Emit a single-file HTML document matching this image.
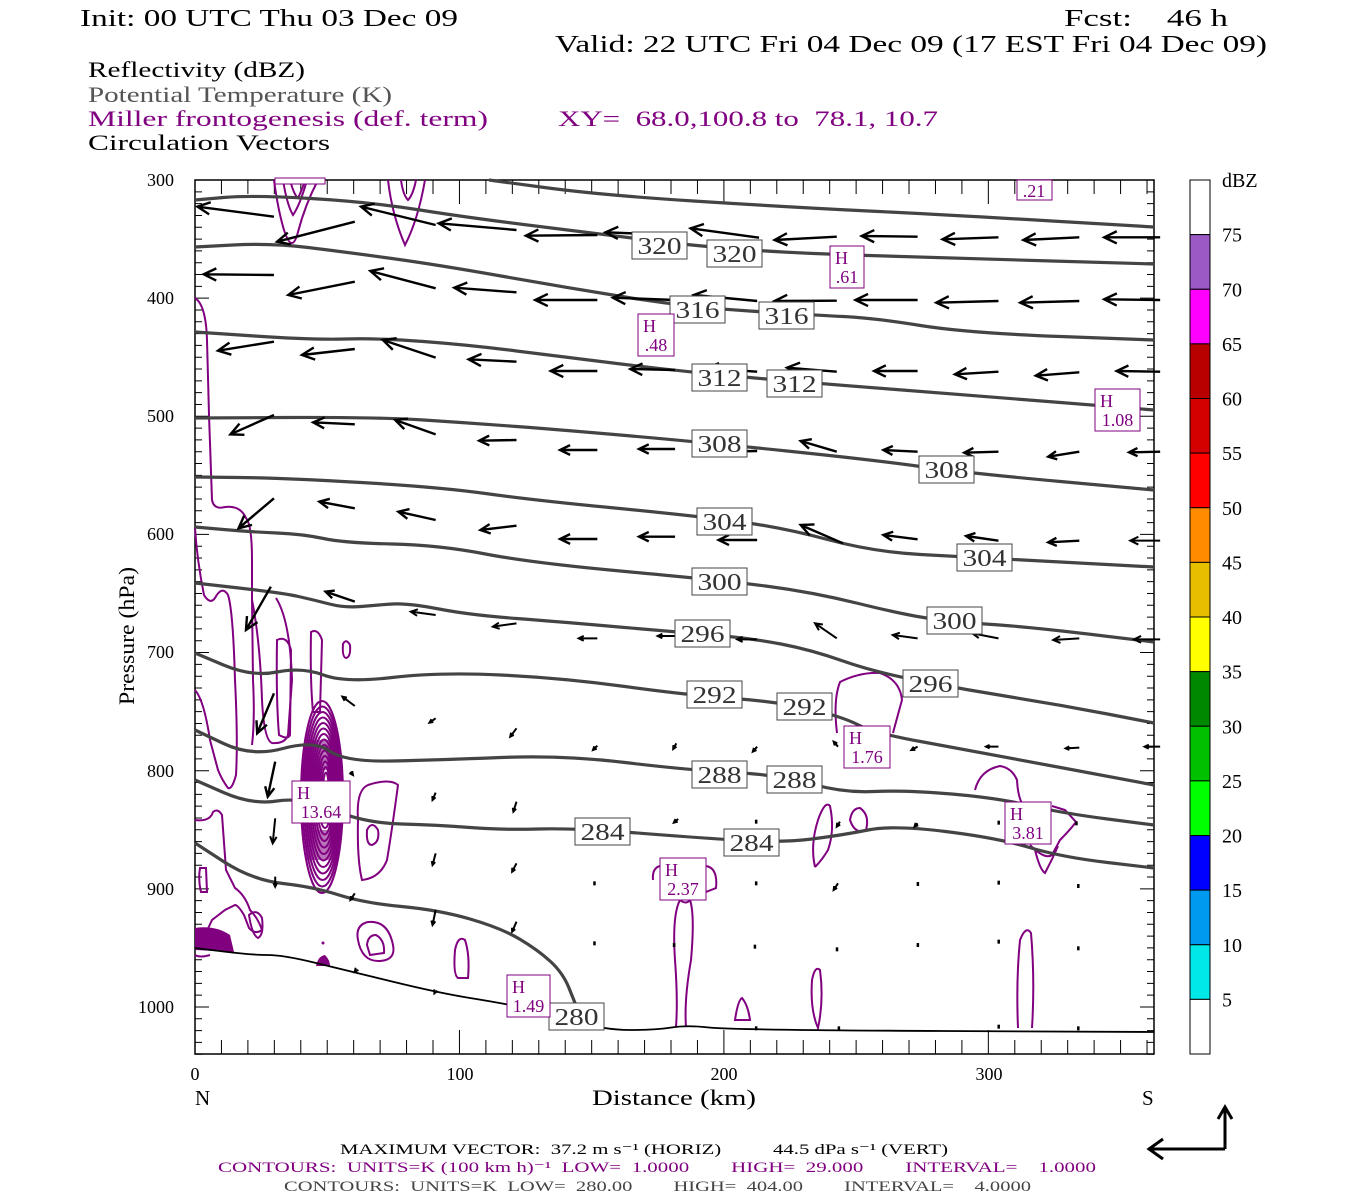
<!DOCTYPE html>
<html><head><meta charset="utf-8"><style>
html,body{margin:0;padding:0;background:#fff}
svg{display:block}
text{white-space:pre}
</style></head><body>
<svg id="s" width="1350" height="1200" viewBox="0 0 1350 1200" xmlns="http://www.w3.org/2000/svg" xml:space="preserve" font-family="'Liberation Serif', serif">
<rect width="1350" height="1200" fill="#fff"/>
<text x="80" y="26" font-size="24" textLength="378" lengthAdjust="spacingAndGlyphs">Init: 00 UTC Thu 03 Dec 09</text>
<text x="1064" y="26" font-size="24" textLength="164" lengthAdjust="spacingAndGlyphs">Fcst:    46 h</text>
<text x="555" y="52" font-size="24" textLength="712" lengthAdjust="spacingAndGlyphs">Valid: 22 UTC Fri 04 Dec 09 (17 EST Fri 04 Dec 09)</text>
<text x="88" y="77" font-size="22" textLength="217" lengthAdjust="spacingAndGlyphs">Reflectivity (dBZ)</text>
<text x="88" y="102" font-size="22" fill="#555" textLength="304" lengthAdjust="spacingAndGlyphs">Potential Temperature (K)</text>
<text x="88" y="126" font-size="22" fill="#800080" textLength="400" lengthAdjust="spacingAndGlyphs">Miller frontogenesis (def. term)</text>
<text x="558" y="126" font-size="22" fill="#800080" textLength="380" lengthAdjust="spacingAndGlyphs">XY=  68.0,100.8 to  78.1, 10.7</text>
<text x="88" y="150" font-size="22" textLength="242" lengthAdjust="spacingAndGlyphs">Circulation Vectors</text>
<g id="plot"></g>
<g font-size="18" text-anchor="end">
<text x="174" y="186">300</text><text x="174" y="304">400</text><text x="174" y="422">500</text><text x="174" y="540">600</text><text x="174" y="658">700</text><text x="174" y="777">800</text><text x="174" y="895">900</text><text x="174" y="1013">1000</text>
</g>
<g font-size="18" text-anchor="middle">
<text x="195" y="1080">0</text><text x="460" y="1080">100</text><text x="724" y="1080">200</text><text x="989" y="1080">300</text>
</g>
<text x="195" y="1105" font-size="21">N</text>
<text x="1142" y="1105" font-size="21">S</text>
<text x="592" y="1105" font-size="22" textLength="164" lengthAdjust="spacingAndGlyphs">Distance (km)</text>
<text transform="translate(134,705) rotate(-90)" font-size="22" textLength="138" lengthAdjust="spacingAndGlyphs">Pressure (hPa)</text>
<text x="340" y="1154" font-size="15" textLength="608" lengthAdjust="spacingAndGlyphs">MAXIMUM VECTOR:  37.2 m s⁻¹ (HORIZ)          44.5 dPa s⁻¹ (VERT)</text>
<text x="218" y="1172" font-size="15" fill="#800080" textLength="878" lengthAdjust="spacingAndGlyphs">CONTOURS:  UNITS=K (100 km h)⁻¹  LOW=  1.0000        HIGH=  29.000        INTERVAL=    1.0000</text>
<text x="284" y="1191" font-size="15" fill="#444" textLength="747" lengthAdjust="spacingAndGlyphs">CONTOURS:  UNITS=K  LOW=  280.00        HIGH=  404.00        INTERVAL=    4.0000</text>
<g stroke="#000" stroke-width="3" fill="none">
<path d="M1225,1149 L1149,1149 M1163,1139 L1149,1149 L1163,1159 M1225,1149 L1225,1107 M1218,1119 L1225,1107 L1232,1119"/>
</g>
<g id="cb"></g>
</svg>
<script>
var NS="http://www.w3.org/2000/svg";
function el(p,t,a,txt){var e=document.createElementNS(NS,t);for(var k in a)e.setAttribute(k,a[k]);if(txt!=null)e.textContent=txt;p.appendChild(e);return e;}
var P=document.getElementById('plot'),CB=document.getElementById('cb');
var cols=["#fff","#9b59c6","#ff00ff","#b80000","#d40000","#ff0000","#ff8c00","#e8be00","#ffff00","#008800","#00c000","#00ff00","#0000ff","#0099f0","#00e8e8","#fff"];
var labs=["75","70","65","60","55","50","45","40","35","30","25","20","15","10","5"];
var h=874/16;
for(var i=0;i<16;i++){el(CB,'rect',{x:1190,y:180+i*h,width:20,height:h,fill:cols[i],stroke:"#000","stroke-width":1});}
el(CB,'text',{x:1222,y:187,"font-size":20},"dBZ");
for(var i=0;i<15;i++){el(CB,'text',{x:1222,y:180+(i+1)*h+7,"font-size":20},labs[i]);}
el(P,'rect',{x:195,y:180,width:959,height:874,fill:"none",stroke:"#000","stroke-width":1.5});
var tk="";
for(var p=300;p<=1040;p+=10){var y=180+(p-300)*1.1814;var L=(p%100==0)?14:7;tk+="M195,"+y+"h"+L+"M1154,"+y+"h-"+L;}
for(var d=0;d<=362;d+=10){var x=195+d*2.6445;var L=(d%100==0)?24:14;tk+="M"+x+",1054v-"+L+"M"+x+",180v"+L;}
el(P,'path',{d:tk,stroke:"#000","stroke-width":1,fill:"none"});
var pur=[
"M195,298 Q206,305 207,340 L209,415 L212,500 Q214,510 225,507 Q240,505 246,518 Q252,525 252,560 L252,600 L253,680 Q255,720 252,745",
"M195,528 Q197,560 204,595 Q210,605 215,598 Q222,585 228,595 Q233,610 235,680 Q238,740 236,775 Q232,790 228,788 Q222,780 218,770 L210,740 Q204,700 195,690",
"M252,600 Q260,640 262,700 Q264,740 272,743 Q285,744 288,735 L292,680 Q290,620 276,598",
"M277,640 Q276,700 279,735 Q288,740 290,735 L291,650 Q287,635 277,640Z",
"M311,632 Q310,680 313,712 L320,712 L322,640 Q318,628 311,632Z",
"M343,644 Q342,657 346,658 Q351,657 350,645 Q346,638 343,644Z",
"M274,180 Q278,210 284,230 Q292,255 298,232 Q305,205 318,180",
"M283,180 Q287,205 293,215 Q300,205 307,180",
"M290,180 Q294,195 298,198 Q302,190 305,180",
"M388,180 Q392,215 405,245 Q418,220 425,180 M401,180 Q403,195 408,200 Q413,195 416,180",
"M358,820 Q356,790 368,785 Q390,778 398,785 Q392,830 387,860 Q380,878 362,880 Q357,860 358,820Z",
"M367,830 Q366,845 372,845 Q380,842 378,830 Q372,820 367,830Z",
"M195,820 Q210,822 213,812 Q218,808 222,815 L226,870 L235,888 Q245,895 250,910 Q258,918 262,930 Q255,935 249,928 L244,915 Q238,905 235,905 L225,910 L212,920 L205,935",
"M249,915 Q252,935 258,938 Q264,935 262,918 Q257,908 249,915Z",
"M200,868 Q198,880 201,892 L207,892 L206,868Z",
"M358,940 Q355,925 368,922 Q388,920 393,945 Q396,960 380,961 Q362,962 358,940Z",
"M367,945 Q368,935 376,935 Q385,940 384,953 L370,955Z",
"M455,950 Q453,975 458,978 L468,978 Q470,955 465,940 Q458,935 455,950Z",
"M653,880 Q652,868 660,866 M706,866 Q718,868 716,888 L706,892 M680,900 Q672,915 675,960 Q678,1000 676,1027 M690,900 Q695,915 691,960 Q684,1000 686,1027 M680,900 Q686,905 690,900",
"M735,1020 Q738,1000 742,998 Q748,1005 750,1020Z",
"M812,980 Q810,1010 818,1028 Q824,1000 820,970 Q815,965 812,980Z",
"M1018,1028 Q1016,980 1020,940 Q1026,925 1031,933 Q1035,980 1032,1028",
"M837,733 Q833,700 840,682 Q860,672 880,673 Q900,680 902,700 Q897,718 893,733",
"M815,867 Q810,845 818,820 Q825,800 830,806 Q835,830 828,850 Q822,860 815,867 M850,820 Q852,808 860,808 Q870,815 866,830 Q855,835 850,820Z",
"M975,790 Q980,770 1000,766 Q1012,768 1017,780 Q1018,800 1025,808 M1030,845 Q1045,860 1052,855 L1060,840 Q1070,830 1076,822 L1065,810 L1052,806 M1035,850 Q1040,870 1045,873 Q1052,860 1058,846",
"M195,955 Q200,958 210,955"
];
pur.forEach(function(d){el(P,'path',{d:d,stroke:"#800080","stroke-width":2,fill:"none"});});
for(var i=0;i<14;i++){var rx=21-i*1.4,ry=96-i*6;el(P,'ellipse',{cx:322+i*0.3,cy:797-i*0.5,rx:rx,ry:ry,stroke:"#800080","stroke-width":2,fill:"none"});}
el(P,'rect',{x:306,y:740,width:30,height:30,fill:"#800080","fill-opacity":0.55});
el(P,'rect',{x:306,y:830,width:32,height:30,fill:"#800080","fill-opacity":0.55});
el(P,'path',{d:"M195,928 Q215,925 230,935 L234,952 L195,950Z",fill:"#800080"});
el(P,'path',{d:"M316,966 Q318,956 325,955 Q330,960 330,966Z",fill:"#800080"});
el(P,'circle',{cx:323,cy:943,r:1.5,fill:"#800080"});
var ISO=[
[[489,180],[600,195],[787,207],[950,215],[1154,227]],
[[195,200],[252,195],[370,202],[470,218],[625,237],[687,245],[787,253],[950,258],[1154,264]],
[[195,247],[271,243],[345,252],[439,265],[563,287],[687,307],[812,315],[874,318],[967,333],[1154,340]],
[[195,332],[314,340],[377,338],[470,345],[563,357],[687,372],[812,383],[967,395],[1154,410]],
[[195,418],[377,417],[470,423],[563,430],[700,442],[874,460],[967,473],[1154,490]],
[[195,477],[283,478],[439,487],[532,500],[687,515],[781,527],[874,552],[967,557],[1154,567]],
[[195,527],[252,532],[302,534],[345,543],[439,545],[532,563],[719,580],[812,592],[905,615],[955,622],[1030,627],[1154,642]],
[[195,583],[283,593],[314,600],[345,608],[377,605],[408,603],[470,615],[563,622],[675,632],[750,638],[812,650],[874,672],[967,690],[1061,705],[1154,723]],
[[195,653],[252,677],[302,667],[345,683],[439,672],[563,678],[687,695],[781,702],[843,717],[874,733],[967,750],[1154,785]],
[[195,730],[252,757],[314,740],[345,762],[439,760],[563,755],[687,770],[781,775],[843,793],[905,790],[998,798],[1061,813],[1154,825]],
[[195,780],[252,805],[302,797],[364,823],[439,825],[501,830],[575,828],[687,837],[781,843],[843,835],[893,825],[998,838],[1061,857],[1154,868]],
[[195,843],[252,880],[314,887],[364,903],[439,910],[501,928],[538,950],[563,973],[575,1003]]
];
function smooth(pts){var d="M"+pts[0][0]+","+pts[0][1];for(var i=1;i<pts.length;i++){var p0=pts[i-1],p1=pts[i];var mx=(p0[0]+p1[0])/2,my=(p0[1]+p1[1])/2;d+=" Q"+p0[0]+","+p0[1]+" "+mx+","+my;}d+=" L"+pts[pts.length-1][0]+","+pts[pts.length-1][1];return d;}
ISO.forEach(function(p){el(P,'path',{d:smooth(p),stroke:"#444","stroke-width":3.2,fill:"none","stroke-linejoin":"round"});});
el(P,'path',{d:smooth([[195,948],[252,955],[283,955],[345,970],[439,993],[501,1003],[551,1013],[604,1030],[656,1030],[687,1025],[731,1030],[1154,1032]]),stroke:"#000","stroke-width":1.8,fill:"none"});
var A4=[[12,95,135,125],[275,95,395,150],[140,200,265,140],[400,145,525,165],[540,182,655,180],[668,172,780,180],[805,160,915,188],[940,195,1040,185],[1080,183,1170,185],[1210,193,1300,187],[1340,195,1430,187],[1470,187,1560,187],
[22,298,135,300],[158,360,265,320],[290,288,395,340],[425,338,525,352],[555,375,655,375],[680,368,780,375],[810,360,912,378],[940,378,1040,377],[1070,375,1170,375],[1200,383,1300,378],[1335,383,1430,378],[1470,373,1560,375],
[45,527,135,500],[180,540,265,522],[310,495,395,548],[448,553,525,560],[580,588,655,588],[708,582,780,585],[830,580,912,590],[960,578,1040,590],[1100,588,1170,588],[1230,598,1300,590],[1360,602,1430,592],[1490,588,1560,590],
[65,778,135,720],[198,742,265,748],[330,735,395,778],[465,797,525,795],[595,825,655,825],[722,822,780,822],[850,830,912,828],[982,798,1040,830],[1115,825,1170,830],[1245,833,1300,830],[1380,845,1430,830],[1510,832,1560,830],
[78,1060,135,970],[208,980,265,1000],[335,1010,395,1035],[467,1065,525,1052],[595,1092,655,1092],[722,1085,780,1085],[850,1095,912,1095],[982,1050,1050,1105],[1115,1080,1170,1093],[1248,1083,1300,1097],[1380,1102,1430,1097],[1512,1097,1560,1097],
[218,1250,265,1280]];
var A5=[[90,90,130,-40],[355,35,395,45],[487,80,525,70],[625,115,655,115],[752,108,780,108],[880,118,912,118],[1005,70,1040,115],[1130,105,1170,115],[1258,100,1300,115],[1388,120,1430,115],[1518,118,1560,118],
[108,400,135,280],[245,290,265,318],[385,368,395,355],[515,410,525,385],[648,450,655,437],[777,447,782,430],[905,455,912,440],[1035,425,1042,440],[1160,450,1170,440],[1280,440,1300,440],[1408,445,1430,443],[1535,440,1560,440],
[125,590,137,485],[262,525,258,515],[390,600,395,578],[520,635,525,605],[650,667,655,660],[778,668,785,657],[1040,680,1045,665],[1165,680,1170,670],
[133,730,137,655],[390,795,395,760],[518,815,525,790],
[137,860,137,830],[258,900,265,880],[390,975,395,930],[518,995,525,965],[1035,870,1042,850],[775,855,780,845],
[265,1115,268,1108],[393,1180,395,1172]];
function arrow(hx,hy,tx,ty){var dx=hx-tx,dy=hy-ty,L=Math.sqrt(dx*dx+dy*dy);
 var hs=Math.min(14,Math.max(4,L*0.3));var ux=dx/L,uy=dy/L;var a=0.45;
 var c=Math.cos(a),s=Math.sin(a);
 var b1x=hx-hs*(ux*c-uy*s),b1y=hy-hs*(uy*c+ux*s),b2x=hx-hs*(ux*c+uy*s),b2y=hy-hs*(uy*c-ux*s);
 el(P,'path',{d:"M"+tx+","+ty+"L"+hx+","+hy+"M"+b1x+","+b1y+"L"+hx+","+hy+"L"+b2x+","+b2y,stroke:"#000","stroke-width":L>30?2.4:2,fill:"none"});}
A4.forEach(function(a){arrow(190+a[0]/1.608,175+a[1]/3,190+a[2]/1.608,175+a[3]/3);});
A5.forEach(function(a){arrow(190+a[0]/1.608,600+a[1]/3,190+a[2]/1.608,600+a[3]/3);});
[[650,850],[910,850],[1170,852],[1300,848],[1428,858],[650,1030],[778,1035],[908,1040],[1040,1048],[1170,1035],[1300,1025],[1428,1045],[910,665],[1300,668],[1425,670],[910,1285],[1043,1285],[1300,1280],[1428,1285]].forEach(function(d){el(P,'rect',{x:190+d[0]/1.608-1,y:600+d[1]/3-2,width:2.5,height:4,fill:"#000"});});
var IL=[[632,232,"320"],[707,240,"320"],[670,296,"316"],[759,302,"316"],[692,364,"312"],[767,370,"312"],[692,430,"308"],[919,456,"308"],[697,508,"304"],[957,544,"304"],[692,568,"300"],[927,607,"300"],[675,620,"296"],[903,670,"296"],[687,681,"292"],[777,693,"292"],[692,761,"288"],[767,766,"288"],[575,818,"284"],[724,829,"284"],[549,1003,"280"]];
IL.forEach(function(l){el(P,'rect',{x:l[0],y:l[1],width:55,height:27,fill:"#fff",stroke:"#444","stroke-width":1});el(P,'text',{x:l[0]+27.5,y:l[1]+22,"font-size":24,"text-anchor":"middle",fill:"#333",textLength:44,lengthAdjust:"spacingAndGlyphs"},l[2]);});
var HL=[[830,246,34,".61"],[638,314,36,".48"],[1095,389,45,"1.08"],[292,781,58,"13.64"],[844,726,46,"1.76"],[1005,802,46,"3.81"],[660,858,46,"2.37"],[507,975,43,"1.49"]];
HL.forEach(function(l){el(P,'rect',{x:l[0],y:l[1],width:l[2],height:42,fill:"#fff",stroke:"#800080","stroke-width":1});
 el(P,'text',{x:l[0]+5,y:l[1]+18,"font-size":18,fill:"#800080"},"H");
 el(P,'text',{x:l[0]+l[2]/2,y:l[1]+37,"font-size":18,fill:"#800080","text-anchor":"middle"},l[3]);});
el(P,'rect',{x:1017,y:180,width:35,height:20,fill:"#fff",stroke:"#800080","stroke-width":1});
el(P,'text',{x:1034,y:197,"font-size":18,fill:"#800080","text-anchor":"middle"},".21");
el(P,'rect',{x:275,y:178,width:50,height:6,fill:"#fff",stroke:"#800080","stroke-width":1});
</script>
</body></html>
